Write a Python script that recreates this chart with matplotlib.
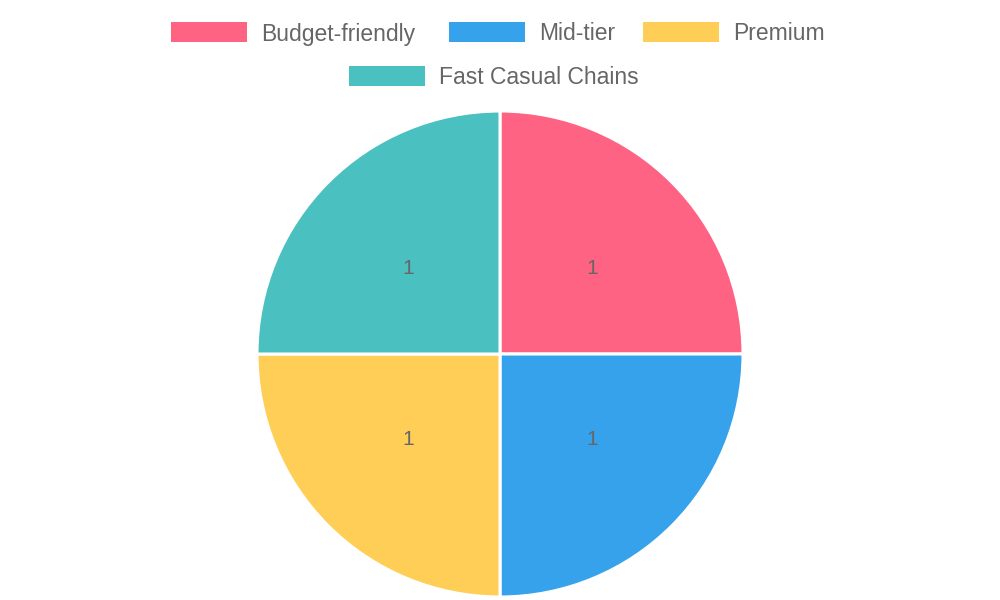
import matplotlib.pyplot as plt
from matplotlib.patches import Rectangle

labels = ['Budget-friendly', 'Mid-tier', 'Premium', 'Fast Casual Chains']
values = [1, 1, 1, 1]
colors = ['#FF6384', '#36A2EB', '#FFCE56', '#4BC0C0']

plt.rcParams['font.family'] = ['Liberation Sans', 'DejaVu Sans']

fig = plt.figure(figsize=(10, 6), dpi=100)
ax = fig.add_axes([0.257, 0.005, 0.486, 0.81])
wedges, texts = ax.pie(values, colors=colors, startangle=90, counterclock=False,
                       wedgeprops=dict(edgecolor='white', linewidth=2.2),
                       labels=[str(v) for v in values], labeldistance=0.5)
for t in texts:
    t.set_color('#666666')
    t.set_fontsize(15)
ax.set_xlim(-1.0, 1.0)
ax.set_ylim(-1.0, 1.0)
ax.set_aspect('equal')

# legend drawn by hand in pixel coordinates (two centered rows)
rows = [[(0, 171), (1, 449), (2, 643)], [(3, 349)]]
row_y = [32, 76]
for row, y in zip(rows, row_y):
    for idx, x in row:
        fig.patches.append(Rectangle((x / 1000, 1 - (y + 10) / 600), 76 / 1000, 20 / 600,
                                     transform=fig.transFigure, facecolor=colors[idx],
                                     edgecolor='none'))
        fig.text((x + 90) / 1000, 1 - (y + 2) / 600, labels[idx], fontsize=16.5,
                 color='#666666', va='center', ha='left')

fig.savefig('out.png')
